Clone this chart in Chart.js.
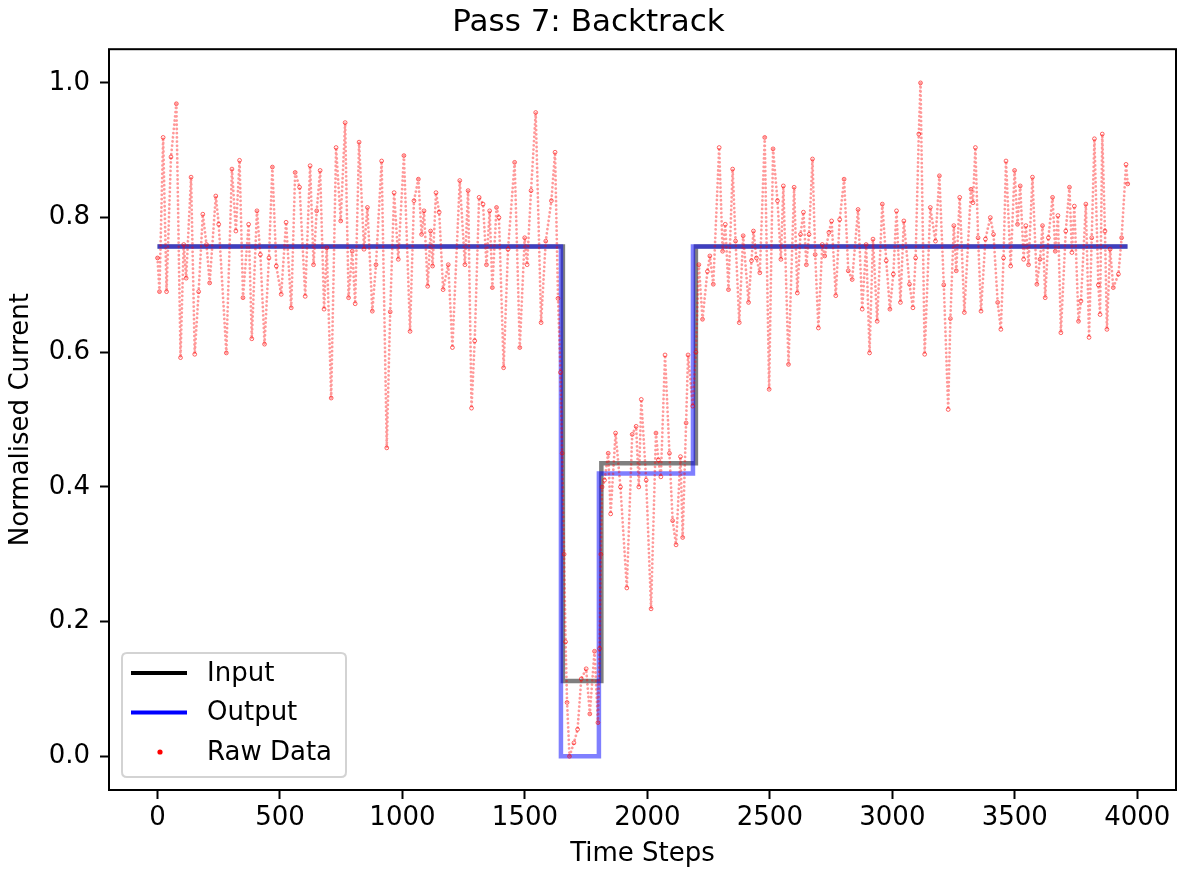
<!DOCTYPE html>
<html>
<head>
<meta charset="utf-8">
<script src="https://cdn.jsdelivr.net/npm/chart.js@4"></script>
<style>
html,body{margin:0;padding:0;background:#ffffff;}
canvas{display:block;}
</style>
</head>
<body>
<canvas id="chart" width="1181" height="874"></canvas>
<script>
// ---- data ----
const chartTitle = 'Pass 7: Backtrack';
const xAxisLabel = 'Time Steps';
const yAxisLabel = 'Normalised Current';
const seriesNames = ['Input', 'Output', 'Raw Data'];

const xTicks = [0, 500, 1000, 1500, 2000, 2500, 3000, 3500, 4000];
const yTicks = [0.0, 0.2, 0.4, 0.6, 0.8, 1.0];

// step levels (value holds from this time step until the next)
const inputTime  = [0, 1655, 1812, 2198, 3960];
const inputLevel = [0.757, 0.112, 0.435, 0.757, 0.757];
const outputTime  = [0, 1647, 1802, 2186, 3960];
const outputLevel = [0.757, 0.0, 0.42, 0.757, 0.757];

// raw samples (time step, normalised current)
const rawTime = [
  0, 8, 23, 37, 55, 77, 94, 107, 117, 137,
  152, 168, 185, 200, 213, 238, 250, 281, 304, 320,
  335, 349, 372, 385, 406, 420, 437, 455, 469, 485,
  505, 525, 546, 562, 580, 603, 623, 637, 650, 664,
  680, 691, 709, 729, 748, 766, 780, 795, 807, 823,
  843, 857, 877, 892, 915, 936, 950, 966, 983, 1006,
  1031, 1047, 1065, 1078, 1088, 1103, 1115, 1123, 1137, 1150,
  1166, 1187, 1204, 1234, 1255, 1268, 1282, 1295, 1313, 1329,
  1343, 1356, 1367, 1384, 1394, 1413, 1431, 1458, 1479, 1499,
  1509, 1525, 1544, 1566, 1585, 1608, 1623, 1635, 1645, 1652,
  1660, 1666, 1672, 1682, 1700, 1715, 1730, 1750, 1765, 1784,
  1798, 1805, 1810, 1815, 1825, 1840, 1850, 1870, 1890, 1916,
  1938, 1954, 1965, 1975, 1995, 2015, 2035, 2045, 2055, 2072,
  2090, 2103, 2117, 2135, 2144, 2158, 2166, 2185, 2198, 2210,
  2225, 2245, 2255, 2269, 2293, 2307, 2318, 2331, 2348, 2360,
  2375, 2391, 2413, 2425, 2433, 2445, 2459, 2479, 2497, 2513,
  2531, 2545, 2555, 2576, 2599, 2612, 2625, 2637, 2649, 2660,
  2674, 2685, 2698, 2714, 2724, 2741, 2752, 2769, 2785, 2803,
  2820, 2836, 2860, 2877, 2893, 2907, 2921, 2938, 2959, 2975,
  2990, 3004, 3017, 3033, 3047, 3070, 3084, 3095, 3108, 3115,
  3132, 3155, 3176, 3192, 3210, 3228, 3237, 3251, 3261, 3275,
  3294, 3321, 3329, 3339, 3350, 3362, 3380, 3400, 3413, 3430,
  3443, 3454, 3464, 3483, 3499, 3511, 3522, 3536, 3545, 3556,
  3572, 3590, 3603, 3613, 3624, 3637, 3654, 3665, 3676, 3688,
  3708, 3723, 3733, 3743, 3760, 3770, 3790, 3803, 3814, 3825,
  3841, 3848, 3857, 3868, 3876, 3889, 3902, 3923, 3936, 3954,
  3961
];
const rawCurrent = [
  0.74, 0.69, 0.919, 0.69, 0.89, 0.969, 0.592, 0.76, 0.71, 0.86,
  0.597, 0.69, 0.805, 0.76, 0.703, 0.832, 0.79, 0.599, 0.872, 0.78,
  0.885, 0.681, 0.79, 0.62, 0.81, 0.745, 0.612, 0.74, 0.875, 0.728,
  0.686, 0.793, 0.666, 0.867, 0.845, 0.683, 0.877, 0.73, 0.81, 0.87,
  0.664, 0.755, 0.532, 0.904, 0.795, 0.941, 0.681, 0.75, 0.672, 0.912,
  0.753, 0.815, 0.661, 0.73, 0.884, 0.458, 0.66, 0.837, 0.738, 0.892,
  0.631, 0.825, 0.857, 0.775, 0.81, 0.698, 0.78, 0.728, 0.837, 0.808,
  0.693, 0.73, 0.607, 0.855, 0.73, 0.84, 0.517, 0.617, 0.83, 0.82,
  0.73, 0.81, 0.696, 0.815, 0.80, 0.577, 0.753, 0.882, 0.607, 0.77,
  0.73, 0.84, 0.956, 0.644, 0.765, 0.825, 0.897, 0.68, 0.57, 0.45,
  0.30, 0.17, 0.08, 0.0, 0.02, 0.04, 0.115, 0.13, 0.063, 0.156,
  0.05, 0.16, 0.30, 0.40, 0.41, 0.45, 0.36, 0.48, 0.40, 0.25,
  0.478, 0.49, 0.40, 0.53, 0.41, 0.219, 0.48, 0.44, 0.415, 0.596,
  0.45, 0.35, 0.314, 0.445, 0.325, 0.495, 0.596, 0.52, 0.60, 0.73,
  0.649, 0.72, 0.743, 0.701, 0.904, 0.75, 0.79, 0.693, 0.872, 0.765,
  0.644, 0.773, 0.674, 0.736, 0.78, 0.74, 0.718, 0.919, 0.545, 0.902,
  0.825, 0.738, 0.847, 0.582, 0.845, 0.688, 0.775, 0.808, 0.73, 0.775,
  0.887, 0.745, 0.636, 0.76, 0.743, 0.778, 0.795, 0.684, 0.797, 0.857,
  0.721, 0.708, 0.812, 0.664, 0.76, 0.599, 0.768, 0.646, 0.82, 0.736,
  0.664, 0.716, 0.81, 0.674, 0.795, 0.701, 0.666, 0.74, 0.924, 1.0,
  0.597, 0.815, 0.765, 0.862, 0.70, 0.515, 0.65, 0.788, 0.721, 0.83,
  0.659, 0.842, 0.822, 0.904, 0.77, 0.661, 0.768, 0.80, 0.775, 0.674,
  0.634, 0.74, 0.884, 0.728, 0.87, 0.79, 0.847, 0.738, 0.788, 0.73,
  0.86, 0.701, 0.738, 0.788, 0.681, 0.77, 0.83, 0.75, 0.803, 0.629,
  0.78, 0.845, 0.748, 0.817, 0.646, 0.676, 0.82, 0.622, 0.77, 0.917,
  0.70, 0.656, 0.924, 0.78, 0.634, 0.753, 0.696, 0.716, 0.77, 0.879,
  0.85
];

// ---- chart ----
const FONT = "'DejaVu Sans', 'Liberation Sans', sans-serif";
Chart.defaults.font.family = FONT;
Chart.defaults.color = '#000000';

const toXY = (xs, ys) => xs.map((x, i) => ({ x: x, y: ys[i] }));

const framePlugin = {
  id: 'frame',
  afterDraw(chart) {
    const { ctx, chartArea: a } = chart;
    ctx.save();
    ctx.strokeStyle = '#000000';
    ctx.lineWidth = 2;
    ctx.strokeRect(a.left, a.top, a.right - a.left, a.bottom - a.top);
    ctx.restore();
  }
};

const legendPlugin = {
  id: 'mplLegend',
  afterDraw(chart) {
    const { ctx, chartArea: a } = chart;
    const ds = chart.data.datasets;
    const w = 224, h = 124;
    const x0 = a.left + 13, y0 = a.bottom - 13 - h;
    ctx.save();
    const r = 5;
    ctx.beginPath();
    ctx.moveTo(x0 + r, y0);
    ctx.lineTo(x0 + w - r, y0);
    ctx.quadraticCurveTo(x0 + w, y0, x0 + w, y0 + r);
    ctx.lineTo(x0 + w, y0 + h - r);
    ctx.quadraticCurveTo(x0 + w, y0 + h, x0 + w - r, y0 + h);
    ctx.lineTo(x0 + r, y0 + h);
    ctx.quadraticCurveTo(x0, y0 + h, x0, y0 + h - r);
    ctx.lineTo(x0, y0 + r);
    ctx.quadraticCurveTo(x0, y0, x0 + r, y0);
    ctx.closePath();
    ctx.fillStyle = 'rgba(255,255,255,0.8)';
    ctx.fill();
    ctx.strokeStyle = '#d3d3d3';
    ctx.lineWidth = 2;
    ctx.stroke();
    const rowY = [y0 + 20, y0 + 59.5, y0 + 99];
    const handleColors = ['#000000', '#0000ff', '#ff0000'];
    ctx.font = '26px ' + FONT;
    ctx.textBaseline = 'middle';
    ctx.textAlign = 'left';
    ds.forEach((d, i) => {
      const y = rowY[i];
      if (i < 2) {
        ctx.beginPath();
        ctx.moveTo(x0 + 9, y);
        ctx.lineTo(x0 + 65, y);
        ctx.strokeStyle = handleColors[i];
        ctx.lineWidth = 4;
        ctx.stroke();
      } else {
        ctx.beginPath();
        ctx.arc(x0 + 38, y, 2.6, 0, Math.PI * 2);
        ctx.fillStyle = handleColors[i];
        ctx.fill();
      }
      ctx.fillStyle = '#000000';
      ctx.fillText(d.label, x0 + 85, y + 1);
    });
    ctx.restore();
  }
};

const tickGrid = {
  display: true,
  drawOnChartArea: false,
  drawTicks: true,
  tickLength: 9,
  tickWidth: 2,
  tickColor: '#000000'
};

new Chart(document.getElementById('chart').getContext('2d'), {
  type: 'line',
  data: {
    datasets: [
      {
        label: seriesNames[0],
        data: toXY(inputTime, inputLevel),
        stepped: 'before',
        borderColor: 'rgba(0,0,0,0.5)',
        borderWidth: 4.5,
        pointRadius: 0,
        fill: false,
        order: 3
      },
      {
        label: seriesNames[1],
        data: toXY(outputTime, outputLevel),
        stepped: 'before',
        borderColor: 'rgba(0,0,255,0.5)',
        borderWidth: 4.5,
        pointRadius: 0,
        fill: false,
        order: 2
      },
      {
        label: seriesNames[2],
        data: toXY(rawTime, rawCurrent),
        showLine: true,
        borderColor: 'rgba(255,0,0,0.4)',
        borderWidth: 2.8,
        borderDash: [0.01, 4.2],
        borderCapStyle: 'round',
        pointRadius: 1.9,
        pointBorderWidth: 1,
        pointBorderColor: 'rgba(255,0,0,0.6)',
        pointBackgroundColor: 'rgba(255,255,255,0)',
        fill: false,
        tension: 0,
        order: 1
      }
    ]
  },
  options: {
    responsive: false,
    animation: false,
    devicePixelRatio: 1,
    layout: { padding: { left: 0, right: 4, top: 0, bottom: 0 } },
    plugins: {
      legend: { display: false },
      tooltip: { enabled: false },
      title: {
        display: true,
        text: chartTitle,
        color: '#000000',
        font: { size: 31, weight: 'normal', family: FONT },
        padding: { top: 4, bottom: 8 }
      }
    },
    scales: {
      x: {
        type: 'linear',
        min: -198,
        max: 4158,
        afterBuildTicks: (s) => { s.ticks = xTicks.map(v => ({ value: v })); },
        afterFit: (s) => { s.height = 84; },
        ticks: { color: '#000000', font: { size: 26 }, padding: 4, maxRotation: 0, autoSkip: false,
                 callback: (v) => String(v) },
        grid: tickGrid,
        border: { display: false },
        title: { display: true, text: xAxisLabel, color: '#000000', font: { size: 26 },
                 padding: { top: 0, bottom: 4 } }
      },
      y: {
        type: 'linear',
        min: -0.05,
        max: 1.05,
        afterBuildTicks: (s) => { s.ticks = yTicks.map(v => ({ value: v })); },
        afterFit: (s) => { s.width = 109; },
        ticks: { color: '#000000', font: { size: 26 }, padding: 10, autoSkip: false,
                 callback: (v) => Number(v).toFixed(1) },
        grid: tickGrid,
        border: { display: false },
        title: { display: true, text: yAxisLabel, color: '#000000', font: { size: 26 },
                 padding: { top: 6, bottom: 0 } }
      }
    }
  },
  plugins: [framePlugin, legendPlugin]
});
</script>
</body>
</html>
